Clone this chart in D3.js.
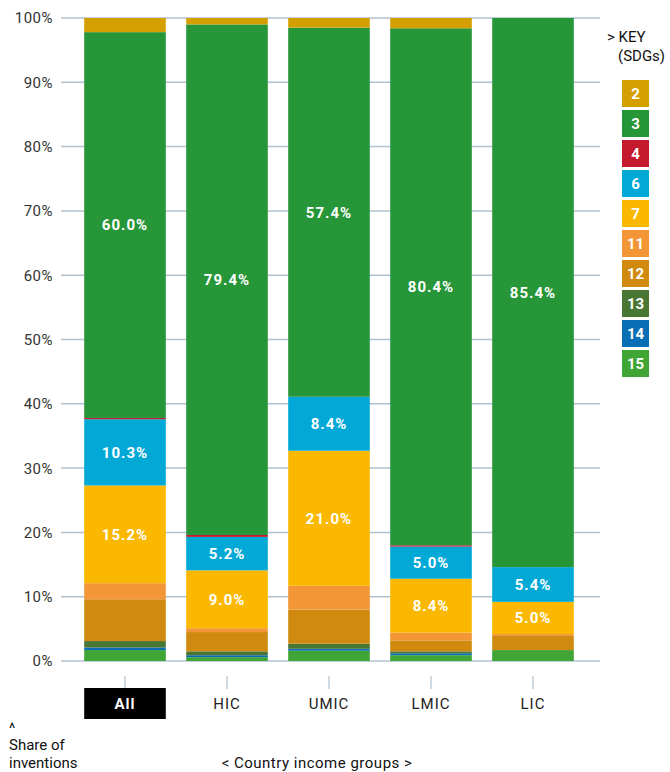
<!DOCTYPE html>
<html>
<head>
<meta charset="utf-8">
<script src="https://cdn.jsdelivr.net/npm/d3@7"></script>
<style>
  html, body { margin: 0; padding: 0; background: #fff; }
  svg { display: block; }
</style>
</head>
<body>
<svg id="chart" width="670" height="772"></svg>
<script>
// Country income groups
const categories = ["All", "HIC", "UMIC", "LMIC", "LIC"];

// Share of inventions (%) by SDG, per income group
const sdg2  = [2.2, 1.0, 1.5, 1.6, 0.0];
const sdg3  = [60.0, 79.4, 57.4, 80.4, 85.4];
const sdg4  = [0.2, 0.3, 0.0, 0.2, 0.0];
const sdg6  = [10.3, 5.2, 8.4, 5.0, 5.4];
const sdg7  = [15.2, 9.0, 21.0, 8.4, 5.0];
const sdg11 = [2.5, 0.6, 3.7, 1.2, 0.3];
const sdg12 = [6.5, 3.0, 5.3, 1.7, 2.2];
const sdg13 = [1.0, 0.6, 0.8, 0.3, 0.0];
const sdg14 = [0.4, 0.3, 0.3, 0.3, 0.0];
const sdg15 = [1.7, 0.6, 1.6, 0.9, 1.7];

// Stack order, bottom to top
const stackKeys = ["15", "14", "13", "12", "11", "7", "6", "4", "3", "2"];
// Key order, top to bottom
const legendKeys = ["2", "3", "4", "6", "7", "11", "12", "13", "14", "15"];
// Segments that carry a value label
const labelledKeys = ["3", "6", "7"];

const yTicks = [0, 10, 20, 30, 40, 50, 60, 70, 80, 90, 100];

const seriesValues = {
  "2": sdg2, "3": sdg3, "4": sdg4, "6": sdg6, "7": sdg7,
  "11": sdg11, "12": sdg12, "13": sdg13, "14": sdg14, "15": sdg15
};

const colors = {
  "2": "#d4a000", "3": "#279638", "4": "#c5192d", "6": "#02a8d6",
  "7": "#fbb800", "11": "#f39637", "12": "#d08a0f", "13": "#4a7634",
  "14": "#0a6eb4", "15": "#3fa535"
};

const table = categories.map((c, i) => {
  const row = { group: c };
  stackKeys.forEach(k => { row[k] = seriesValues[k][i]; });
  return row;
});

const svg = d3.select("#chart");
const font = "Roboto, 'DejaVu Sans', sans-serif";

const x = d3.scaleBand()
  .domain(categories)
  .range([74, 584])
  .paddingInner(0.2)
  .paddingOuter(0.1);

const y = d3.scaleLinear().domain([0, 100]).range([661, 18]);

// Horizontal grid lines
svg.append("g")
  .selectAll("line")
  .data(yTicks)
  .join("line")
  .attr("x1", 61).attr("x2", 600)
  .attr("y1", d => y(d)).attr("y2", d => y(d))
  .attr("stroke", "#aec2d1")
  .attr("stroke-width", 1.5);

// Y-axis labels
svg.append("g")
  .selectAll("text")
  .data(yTicks)
  .join("text")
  .attr("x", 53)
  .attr("y", d => y(d))
  .attr("dy", "0.36em")
  .attr("text-anchor", "end")
  .attr("font-family", font)
  .attr("font-size", 15)
  .attr("fill", "#333")
  .attr("letter-spacing", 0.5)
  .text(d => d + "%");

// Stacked bars
const stacked = d3.stack().keys(stackKeys)(table);

const layers = svg.append("g")
  .selectAll("g")
  .data(stacked)
  .join("g")
  .attr("fill", d => colors[d.key]);

layers.selectAll("rect")
  .data(d => d)
  .join("rect")
  .attr("x", d => x(d.data.group))
  .attr("width", x.bandwidth())
  .attr("y", d => y(d[1]))
  .attr("height", d => Math.max(0, y(d[0]) - y(d[1])));

// Value labels for SDG 3, 6 and 7
const labelled = stacked.filter(s => labelledKeys.includes(s.key));
svg.append("g")
  .selectAll("g")
  .data(labelled)
  .join("g")
  .selectAll("text")
  .data(d => d.map(seg => ({ seg, key: d.key })))
  .join("text")
  .attr("x", d => x(d.seg.data.group) + x.bandwidth() / 2)
  .attr("y", d => (y(d.seg[0]) + y(d.seg[1])) / 2)
  .attr("dy", "0.36em")
  .attr("text-anchor", "middle")
  .attr("font-family", font)
  .attr("font-weight", "bold")
  .attr("font-size", 15)
  .attr("letter-spacing", 1)
  .attr("fill", "#fff")
  .text(d => d.seg.data[d.key].toFixed(1) + "%");

// X-axis ticks and labels
const xAxis = svg.append("g");
xAxis.selectAll("line")
  .data(categories)
  .join("line")
  .attr("x1", d => x(d) + x.bandwidth() / 2)
  .attr("x2", d => x(d) + x.bandwidth() / 2)
  .attr("y1", 676).attr("y2", 689)
  .attr("stroke", "#9fb5c6")
  .attr("stroke-width", 1);

xAxis.append("rect")
  .attr("x", x("All"))
  .attr("y", 688)
  .attr("width", x.bandwidth())
  .attr("height", 31)
  .attr("fill", "#000");

xAxis.selectAll("text")
  .data(categories)
  .join("text")
  .attr("x", d => x(d) + x.bandwidth() / 2)
  .attr("y", 704)
  .attr("dy", "0.36em")
  .attr("text-anchor", "middle")
  .attr("font-family", font)
  .attr("font-size", 15)
  .attr("font-weight", d => d === "All" ? "bold" : "normal")
  .attr("letter-spacing", 1)
  .attr("fill", d => d === "All" ? "#fff" : "#222")
  .text(d => d);

// Axis titles
const titles = svg.append("g")
  .attr("font-family", font)
  .attr("font-size", 15)
  .attr("fill", "#111");
titles.append("text").attr("x", 9).attr("y", 733).text("^");
titles.append("text").attr("x", 9).attr("y", 750).text("Share of");
titles.append("text").attr("x", 9).attr("y", 768).text("inventions");
titles.append("text").attr("x", 317).attr("y", 768)
  .attr("text-anchor", "middle")
  .attr("letter-spacing", 0.5)
  .text("<  Country income groups  >");

// Key
const key = svg.append("g").attr("font-family", font);
key.append("text").attr("x", 607).attr("y", 42)
  .attr("font-size", 15).attr("fill", "#111").text("> KEY");
key.append("text").attr("x", 618).attr("y", 61)
  .attr("font-size", 15).attr("fill", "#111").text("(SDGs)");

const keyItems = key.selectAll("g.item")
  .data(legendKeys)
  .join("g")
  .attr("class", "item")
  .attr("transform", (d, i) => `translate(622, ${80 + i * 30})`);

keyItems.append("rect")
  .attr("width", 27).attr("height", 27)
  .attr("fill", d => colors[d]);

keyItems.append("text")
  .attr("x", 13.5).attr("y", 13.5)
  .attr("dy", "0.36em")
  .attr("text-anchor", "middle")
  .attr("font-size", 15)
  .attr("font-weight", "bold")
  .attr("fill", "#fff")
  .text(d => d);
</script>
</body>
</html>
